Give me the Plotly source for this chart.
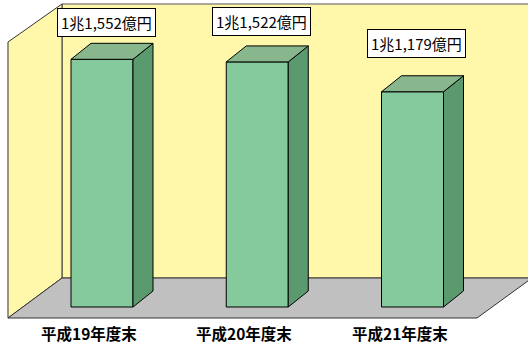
import plotly.graph_objects as go

# ---- data ----
categories = ["平成19年度末", "平成20年度末", "平成21年度末"]
values = [11552, 11522, 11179]          # 億円
value_labels = ["1兆1,552億円", "1兆1,522億円", "1兆1,179億円"]

# ---- layout constants (pixels) ----
W, H = 528, 345
X0_PX, X_STEP = 102.0, 155.25           # px of category 0, px per category
Y_SCALE = 0.087                          # px per 億円
BASE_PX, REF_PX = 307.0, 59.3            # bar bottom px, px of first bar top
BAR_W_PX = 62.0
DEPTH_DX, DEPTH_DY = 20.0, 16.0          # bar depth offset in px
label_yshift = [37, 40, 48]

BASE = values[0] - (BASE_PX - REF_PX) / Y_SCALE
x_range = [-X0_PX / X_STEP, (W - X0_PX) / X_STEP]
y_range = [BASE - (H - BASE_PX) / Y_SCALE, BASE + BASE_PX / Y_SCALE]
bw = BAR_W_PX / X_STEP
ddx = DEPTH_DX / X_STEP
ddy = DEPTH_DY / Y_SCALE

FRONT = "#85CA9C"
SIDE = "#5B9A6F"
TOP = "#89B78D"
WALL = "#FFF8AA"
FLOOR = "#C0C0C0"

def P(x, y):
    return x / W, 1 - y / H

def poly(pts):
    s = ""
    for i, (x, y) in enumerate(pts):
        px, py = P(x, y)
        s += ("M" if i == 0 else "L") + f"{px:.5f},{py:.5f}"
    return s + "Z"

shapes = []
# back wall
shapes.append(dict(type="path", xref="paper", yref="paper",
                   path=poly([(62, 4), (532, 4), (532, 278), (62, 278)]),
                   fillcolor=WALL, line=dict(color="#555555", width=1), layer="below"))
# left wall
shapes.append(dict(type="path", xref="paper", yref="paper",
                   path=poly([(8, 42), (62, 4), (62, 278), (8, 318)]),
                   fillcolor=WALL, line=dict(color="#333333", width=1), layer="below"))
# floor
shapes.append(dict(type="path", xref="paper", yref="paper",
                   path=poly([(8, 318), (62, 278), (532, 278), (477, 318)]),
                   fillcolor=FLOOR, line=dict(color="#333333", width=1), layer="below"))

fig = go.Figure()
xs = list(range(len(values)))
fig.add_trace(go.Bar(x=xs, y=[v - BASE for v in values], base=BASE, width=bw,
                     marker=dict(color=FRONT, line=dict(color="black", width=1)),
                     hoverinfo="skip"))

for i, v in enumerate(values):
    xl, xr = i - bw / 2, i + bw / 2
    side = f"M{xr},{BASE} L{xr + ddx},{BASE + ddy} L{xr + ddx},{v + ddy} L{xr},{v} Z"
    top = f"M{xl},{v} L{xl + ddx},{v + ddy} L{xr + ddx},{v + ddy} L{xr},{v} Z"
    shapes.append(dict(type="path", xref="x", yref="y", path=side,
                       fillcolor=SIDE, line=dict(color="black", width=1), layer="above"))
    shapes.append(dict(type="path", xref="x", yref="y", path=top,
                       fillcolor=TOP, line=dict(color="black", width=1), layer="above"))

annotations = []
for i, (v, t) in enumerate(zip(values, value_labels)):
    annotations.append(dict(x=i, y=v, xref="x", yref="y", text=t, showarrow=False,
                            xshift=4, yshift=label_yshift[i], yanchor="middle",
                            font=dict(family="Noto Sans CJK JP", size=15, color="black"),
                            bgcolor="white", bordercolor="black", borderwidth=1, borderpad=3))
for i, c in enumerate(categories):
    annotations.append(dict(x=i, y=1 - 332.5 / H, xref="x", yref="paper", text=f"<b>{c}</b>",
                            showarrow=False, xshift=-13, yanchor="middle",
                            font=dict(family="Noto Sans CJK JP", size=15.5, color="black")))

fig.update_layout(
    width=W, height=H, margin=dict(l=0, r=0, t=0, b=0),
    paper_bgcolor="white", plot_bgcolor="rgba(0,0,0,0)",
    showlegend=False, shapes=shapes, annotations=annotations,
    xaxis=dict(range=x_range, visible=False, fixedrange=True),
    yaxis=dict(range=y_range, visible=False, fixedrange=True),
)
fig.write_html("out.html")
